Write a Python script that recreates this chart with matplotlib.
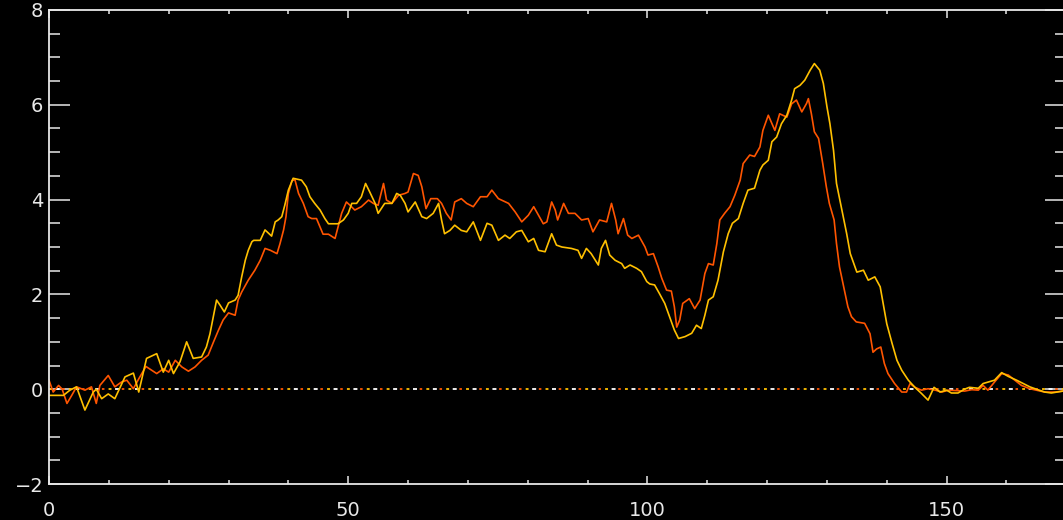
import matplotlib
matplotlib.use('Agg')
import matplotlib.pyplot as plt
from matplotlib.ticker import MultipleLocator

# orange (red-ish) profile
x_orange = [0, 0.7, 1.6, 2.2, 3.0, 3.8, 4.6, 6.0, 7.1, 7.9, 8.5, 9.9, 11, 12.1, 13, 14.1, 15, 16.2, 18,
            19.1, 20, 21.1, 22.2, 23.3, 24.4, 25.5, 26.6, 27.5, 28.3, 29.1, 30, 31.1, 31.6, 32.2, 33.3,
            34.4, 35.3, 36.1, 37, 38.1, 38.6, 39.2, 39.6, 40, 40.6, 41.1, 41.7, 42.5, 43.3, 43.9, 44.7,
            45.5, 45.8, 46.7, 47.8, 48.3, 48.9, 49.7, 50.3, 51.1, 52.2, 53.4, 54.2, 55, 55.9, 56.4, 57.3,
            58.4, 59.5, 60, 60.9, 61.7, 62.3, 63, 63.8, 64.9, 65.6, 66.4, 67.2, 67.8, 68.9, 69.8, 70.9,
            72.1, 73.2, 74, 75.1, 76.8, 77.9, 79, 80.1, 81, 81.8, 82.6, 83.2, 84, 84.6, 85, 86, 86.8,
            87.9, 89, 90.1, 90.9, 92, 93.2, 94, 94.7, 95.1, 96, 96.7, 97.4, 98.5, 99.6, 100.1, 101,
            101.8, 102.4, 103.2, 104, 104.5, 104.9, 105.4, 105.9, 107, 107.9, 108.8, 109.6, 110.2, 111,
            111.6, 112.1, 112.9, 113.8, 114.6, 115.5, 116, 117.1, 117.9, 118.8, 119.3, 120.2, 121.3,
            122.1, 123.3, 124.1, 124.9, 125.8, 126.6, 126.9, 127.4, 127.9, 128.6, 129.3, 129.9, 130.4,
            131.2, 131.6, 132.1, 132.8, 133.5, 134.1, 134.9, 136.3, 137.2, 137.7, 138.3, 139, 139.6,
            140.2, 141.3, 142.5, 143.3, 143.9, 144.7, 145.8, 146.9, 148.1, 149.2, 150.3, 153, 154.2,
            155.3, 156.1, 156.9, 158, 159.2, 160.3, 161.4, 162.5, 163.9, 165, 166.4, 168.1, 169.4]
y_orange = [0.19, -0.06, 0.08, 0.0, -0.30, -0.13, 0.05, -0.02, 0.05, -0.30, 0.08, 0.29, 0.05, 0.15, 0.19,
            0.01, 0.22, 0.48, 0.33, 0.43, 0.36, 0.61, 0.47, 0.38, 0.47, 0.61, 0.72, 1.0, 1.24, 1.46, 1.61,
            1.56, 1.88, 2.05, 2.3, 2.51, 2.72, 2.97, 2.93, 2.86, 3.07, 3.36, 3.64, 4.13, 4.40, 4.42, 4.13,
            3.92, 3.64, 3.60, 3.60, 3.36, 3.27, 3.27, 3.18, 3.42, 3.71, 3.95, 3.88, 3.78, 3.85, 3.99, 3.92,
            3.88, 4.34, 3.99, 3.92, 4.09, 4.13, 4.16, 4.55, 4.51, 4.27, 3.81, 4.02, 4.02, 3.92, 3.71, 3.57,
            3.95, 4.02, 3.92, 3.85, 4.06, 4.06, 4.2, 4.02, 3.92, 3.74, 3.53, 3.67, 3.85, 3.67, 3.49, 3.53,
            3.95, 3.78, 3.57, 3.92, 3.71, 3.71, 3.57, 3.60, 3.32, 3.57, 3.53, 3.92, 3.57, 3.28, 3.60, 3.25,
            3.18, 3.25, 3.0, 2.83, 2.86, 2.58, 2.34, 2.09, 2.07, 1.74, 1.31, 1.46, 1.81, 1.91, 1.70, 1.88,
            2.44, 2.65, 2.62, 3.07, 3.57, 3.71, 3.85, 4.09, 4.41, 4.76, 4.94, 4.91, 5.11, 5.46, 5.78, 5.46,
            5.81, 5.74, 6.02, 6.10, 5.85, 6.03, 6.13, 5.81, 5.43, 5.29, 4.76, 4.27, 3.92, 3.57, 3.07, 2.58,
            2.16, 1.74, 1.53, 1.42, 1.39, 1.17, 0.78, 0.85, 0.89, 0.54, 0.33, 0.12, -0.06, -0.06, 0.12,
            0.04, -0.02, 0.01, -0.02, -0.06, -0.02, -0.04, -0.01, -0.02, 0.08, -0.02, 0.15, 0.33, 0.30,
            0.19, 0.08, 0.01, -0.02, -0.06, -0.06, -0.04]

# yellow profile
x_yellow = [0, 2.4, 3.5, 4.6, 6.0, 7.4, 7.9, 8.8, 9.9, 11, 12.7, 14.1, 15, 16.3, 18, 19.1, 20, 20.8, 21.9,
            23, 24.1, 25.5, 26.3, 26.9, 27.5, 28, 28.6, 29.3, 30, 31.1, 31.6, 32.2, 32.8, 33.3, 33.9, 34.2,
            35.3, 36.1, 37.2, 37.8, 38.3, 38.9, 39.4, 40, 40.8, 42.2, 43, 43.6, 44.4, 45.3, 46.1, 46.7,
            48.3, 49.2, 50, 50.6, 51.4, 52.2, 52.9, 53.6, 54.5, 55, 56.1, 57.3, 58.1, 58.7, 59.5, 60, 61.2,
            62.3, 63.1, 64.2, 65.1, 65.6, 66.1, 67, 67.8, 68.9, 69.8, 70.9, 72.1, 73.2, 74, 75.1, 76.2, 77,
            78.1, 79, 80.1, 81, 81.8, 82.9, 84, 84.8, 85.7, 87.3, 88.4, 89, 89.8, 90.6, 91.8, 92.3, 93,
            93.7, 94.6, 95.7, 96.2, 97.1, 98.2, 99, 99.9, 100.4, 101.2, 102, 102.9, 103.7, 104.5, 105.2,
            106.3, 107.4, 108.2, 109, 109.6, 110.2, 111, 111.8, 112.7, 113.5, 114.2, 115.2, 116, 116.8,
            117.9, 118.8, 119.3, 120.2, 120.8, 121.6, 122.4, 123.3, 124.1, 124.6, 125.5, 126.3, 127.2,
            127.9, 128.8, 129.4, 130, 130.5, 131.1, 131.6, 132.5, 133.3, 133.9, 135, 136.1, 136.9, 138,
            138.9, 139.5, 140, 140.9, 141.7, 142.5, 143.6, 144.7, 145.8, 146.9, 147.9, 148.9, 150, 150.8,
            151.9, 153, 153.8, 155.3, 156.1, 158, 159.2, 160.3, 161.7, 162.8, 163.9, 165, 166.4, 167.5,
            169.4]
y_yellow = [-0.13, -0.13, -0.02, 0.05, -0.44, -0.06, 0.0, -0.2, -0.1, -0.2, 0.26, 0.34, -0.06, 0.65, 0.75,
            0.36, 0.61, 0.33, 0.58, 1.0, 0.65, 0.68, 0.89, 1.17, 1.56, 1.88, 1.77, 1.63, 1.82, 1.88, 1.98,
            2.37, 2.72, 2.93, 3.11, 3.14, 3.14, 3.36, 3.23, 3.53, 3.57, 3.64, 3.88, 4.2, 4.45, 4.41, 4.27,
            4.06, 3.92, 3.78, 3.60, 3.49, 3.49, 3.57, 3.71, 3.92, 3.92, 4.06, 4.34, 4.16, 3.92, 3.71, 3.92,
            3.92, 4.13, 4.09, 3.92, 3.74, 3.95, 3.64, 3.60, 3.71, 3.92, 3.57, 3.28, 3.35, 3.46, 3.35, 3.32,
            3.53, 3.14, 3.50, 3.46, 3.14, 3.25, 3.18, 3.32, 3.35, 3.11, 3.18, 2.93, 2.90, 3.28, 3.04, 3.0,
            2.97, 2.93, 2.76, 2.97, 2.86, 2.62, 2.97, 3.14, 2.83, 2.72, 2.65, 2.55, 2.62, 2.55, 2.48, 2.27,
            2.22, 2.20, 2.02, 1.81, 1.53, 1.25, 1.07, 1.11, 1.18, 1.35, 1.28, 1.56, 1.88, 1.95, 2.30, 2.90,
            3.28, 3.50, 3.60, 3.92, 4.20, 4.24, 4.62, 4.73, 4.83, 5.22, 5.32, 5.60, 5.78, 6.10, 6.34, 6.41,
            6.52, 6.73, 6.87, 6.73, 6.45, 5.96, 5.60, 5.04, 4.34, 3.78, 3.28, 2.86, 2.47, 2.51, 2.30, 2.37,
            2.16, 1.74, 1.38, 0.96, 0.61, 0.40, 0.19, 0.04, -0.09, -0.23, 0.04, -0.06, -0.02, -0.08, -0.08,
            0.0, 0.04, 0.02, 0.12, 0.19, 0.35, 0.27, 0.19, 0.12, 0.05, 0.0, -0.06, -0.08, -0.04]

# zero reference line
x_zero = [0, 170]
y_zero = [0, 0]

ORANGE = '#ff5500'
YELLOW = '#ffc000'
FG = '#e8e8e8'

fig = plt.figure(figsize=(10.63, 5.20), dpi=100, facecolor='black')
ax = fig.add_axes([0.0461, 0.0692, 0.957, 0.9116], facecolor='black')

# dotted zero line, three overplotted colours like the original
ax.plot(x_zero, y_zero, color=YELLOW, lw=1.3, ls=(0, (1.6, 9.4)))
ax.plot(x_zero, y_zero, color=ORANGE, lw=1.3, ls=(3.7, (1.4, 9.6)))
ax.plot(x_zero, y_zero, color='white', lw=1.3, ls=(7.4, (2.2, 8.8)))

ax.plot(x_orange, y_orange, color=ORANGE, lw=1.2)
ax.plot(x_yellow, y_yellow, color=YELLOW, lw=1.2)

ax.set_xlim(0, 170)
ax.set_ylim(-2, 8)

ax.xaxis.set_major_locator(MultipleLocator(50))
ax.xaxis.set_minor_locator(MultipleLocator(10))
ax.yaxis.set_major_locator(MultipleLocator(2))
ax.yaxis.set_minor_locator(MultipleLocator(0.5))

for s in ax.spines.values():
    s.set_color(FG)
    s.set_linewidth(1.3)

ax.tick_params(axis='both', which='both', direction='in', colors=FG, width=1.1,
               top=True, right=True, labelsize=14)
ax.tick_params(axis='x', which='major', length=6, pad=12)
ax.tick_params(axis='x', which='minor', length=3)
ax.tick_params(axis='y', which='major', length=15, pad=4)
ax.tick_params(axis='y', which='minor', length=8)

plt.savefig('out.png', dpi=100, facecolor='black')
